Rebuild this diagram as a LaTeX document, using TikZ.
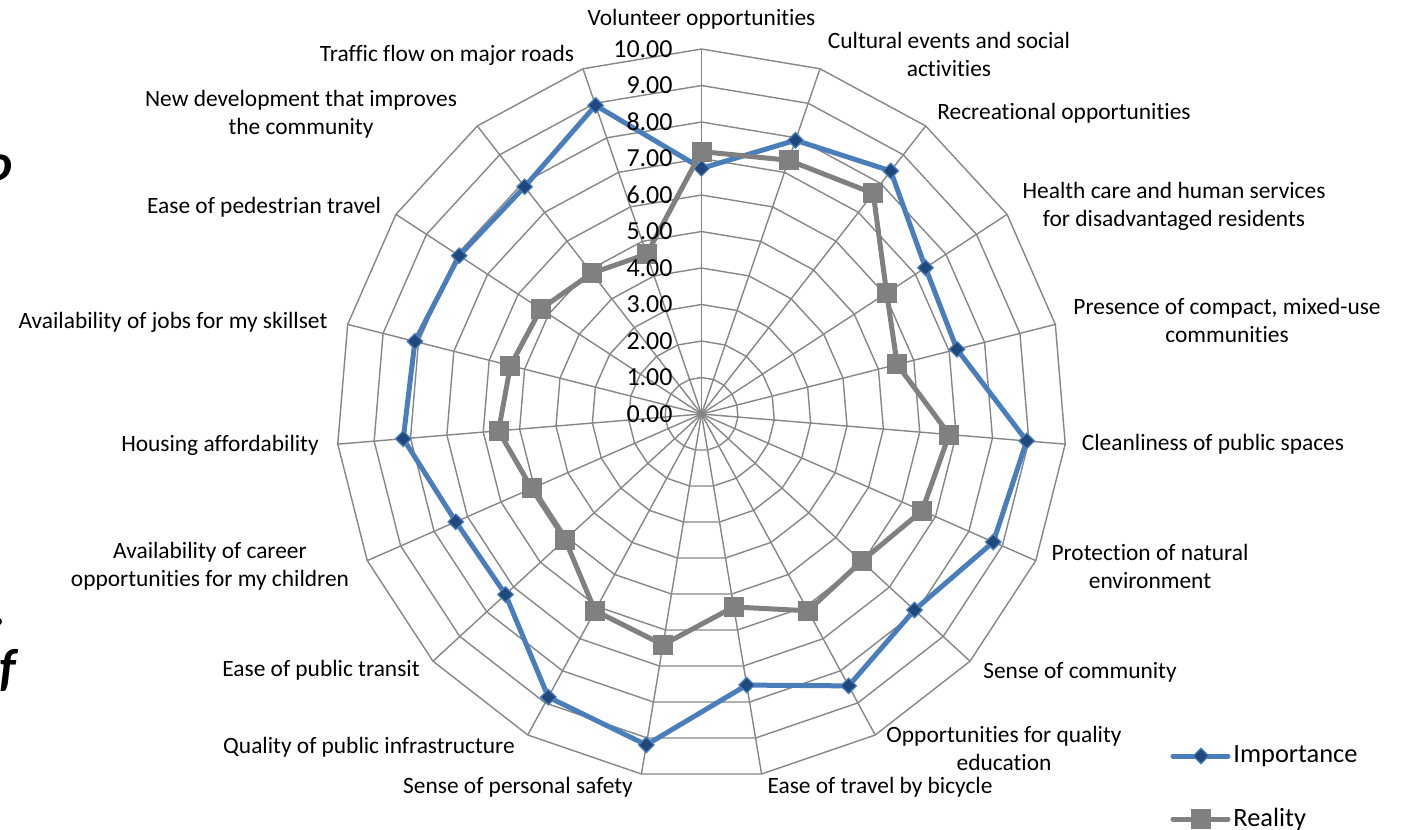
\documentclass[tikz,border=0pt]{standalone}
\usepackage{fontspec}
\setmainfont{Carlito}[Ligatures=NoCommon]
\usetikzlibrary{shapes.geometric}

\definecolor{gridgray}{RGB}{134,134,134}
\definecolor{impblue}{RGB}{74,126,187}
\definecolor{impdark}{RGB}{31,73,125}
\definecolor{realgray}{RGB}{128,128,128}

\tikzset{
  gridline/.style={gridgray,line width=0.7pt},
  catlabel/.style={font=\fontsize{11.7}{14}\selectfont,align=center,inner sep=0pt},
  valuelabel/.style={font=\fontsize{13}{15}\selectfont,anchor=east,inner sep=0pt},
  legendlabel/.style={font=\fontsize{13.2}{15}\selectfont,anchor=west,inner sep=0pt},
  impline/.style={impblue,line width=2.5pt,line join=round},
  realline/.style={realgray,line width=2.5pt,line join=round},
  impmark/.style={diamond,fill=impdark,draw=impblue,line width=0.6pt,inner sep=0pt,minimum size=8pt},
  realmark/.style={rectangle,fill=realgray,inner sep=0pt,minimum size=10pt},
  fragment/.style={font=\fontsize{26}{30}\selectfont\bfseries\itshape,inner sep=0pt,anchor=east}
}

\begin{document}
\begin{tikzpicture}[x=0.5pt,y=-0.5pt]
    \useasboundingbox (0,0) rectangle (1403,830);

    % web
    \begin{scope}[shift={(701.5,414)}]
      \coordinate (c) at (0,0);
      \foreach \i in {1,...,10}
        \draw[gridline] (-90:\i*36.5) \foreach \k in {1,...,18} {-- (-90+\k*360/19:\i*36.5)} -- cycle;
      \foreach \k in {0,...,18} {
        \coordinate (v\k) at (-90+\k*360/19:365);
        \draw[gridline] (c) -- (v\k);
      }

      % Importance
      \foreach \v [count=\k from 0] in {6.73,7.93,8.44,7.33,7.22,8.94,8.73,7.93,8.47,7.53,9.19,8.82,7.30,7.35,8.20,8.10,7.93,7.89,8.94}
        \coordinate (imp\k) at (-90+\k*360/19:\v*36.5);
      \draw[impline] (imp0) \foreach \k in {1,...,18} {-- (imp\k)} -- cycle;
      \foreach \k in {0,...,18} \node[impmark] (dimp\k) at (imp\k) {};

      % Reality
      \foreach \v [count=\k from 0] in {7.19,7.35,7.66,6.06,5.53,6.81,6.60,5.96,6.13,5.36,6.41,6.13,5.08,5.08,5.58,5.40,5.26,4.89,4.63}
        \coordinate (rea\k) at (-90+\k*360/19:\v*36.5);
      \draw[realline] (rea0) \foreach \k in {1,...,18} {-- (rea\k)} -- cycle;
      \foreach \k in {0,...,18} \node[realmark] (srea\k) at (rea\k) {};
    \end{scope}

    % values
    \foreach \i in {0,...,10}
      \node[valuelabel] (val\i) at (673,414-36.5*\i) {\i.00};

    % categories
    \node[catlabel] (lab0) at (701.5,19) {Volunteer opportunities};
    \node[catlabel] (lab1) at (949,54) {Cultural events and social\\activities};
    \node[catlabel] (lab2) at (1064,113) {Recreational opportunities};
    \node[catlabel] (lab3) at (1174,206) {Health care and human services\\for disadvantaged residents};
    \node[catlabel] (lab4) at (1227,320) {Presence of compact, mixed-use\\communities};
    \node[catlabel] (lab5) at (1213,444) {Cleanliness of public spaces};
    \node[catlabel] (lab6) at (1150,566) {Protection of natural\\environment};
    \node[catlabel] (lab7) at (1080,672) {Sense of community};
    \node[catlabel] (lab8) at (1004,748) {Opportunities for quality\\education};
    \node[catlabel] (lab9) at (880,787) {Ease of travel by bicycle};
    \node[catlabel] (lab10) at (518,787) {Sense of personal safety};
    \node[catlabel] (lab11) at (369,747) {Quality of public infrastructure};
    \node[catlabel] (lab12) at (321,670) {Ease of public transit};
    \node[catlabel] (lab13) at (210,566) {Availability of career\\opportunities for my children};
    \node[catlabel] (lab14) at (220,445) {Housing affordability};
    \node[catlabel] (lab15) at (173,322) {Availability of jobs for my skillset};
    \node[catlabel] (lab16) at (264,207) {Ease of pedestrian travel};
    \node[catlabel] (lab17) at (301,114) {New development that improves\\the community};
    \node[catlabel] (lab18) at (447,55) {Traffic flow on major roads};

    % legend
    \coordinate (limpa) at (1173,756);
    \coordinate (limpb) at (1228,756);
    \draw[impline,line cap=round] (limpa) -- (limpb);
    \node[impmark] (limpm) at (1201,756) {};
    \node[legendlabel] (limpt) at (1233,756) {Importance};
    \coordinate (lreaa) at (1173,819);
    \coordinate (lreab) at (1228,819);
    \draw[realline,line cap=round] (lreaa) -- (lreab);
    \node[realmark] (lream) at (1201,819) {};
    \node[legendlabel] (lreat) at (1233,819) {Reality};

    % cut text at the left edge
    \node[fragment] (fragO) at (13,168) {o};
    \node[fragment] (fragDot) at (7,622) {.};
    \node[fragment] (fragF) at (16,670) {f};
\end{tikzpicture}
\end{document}
